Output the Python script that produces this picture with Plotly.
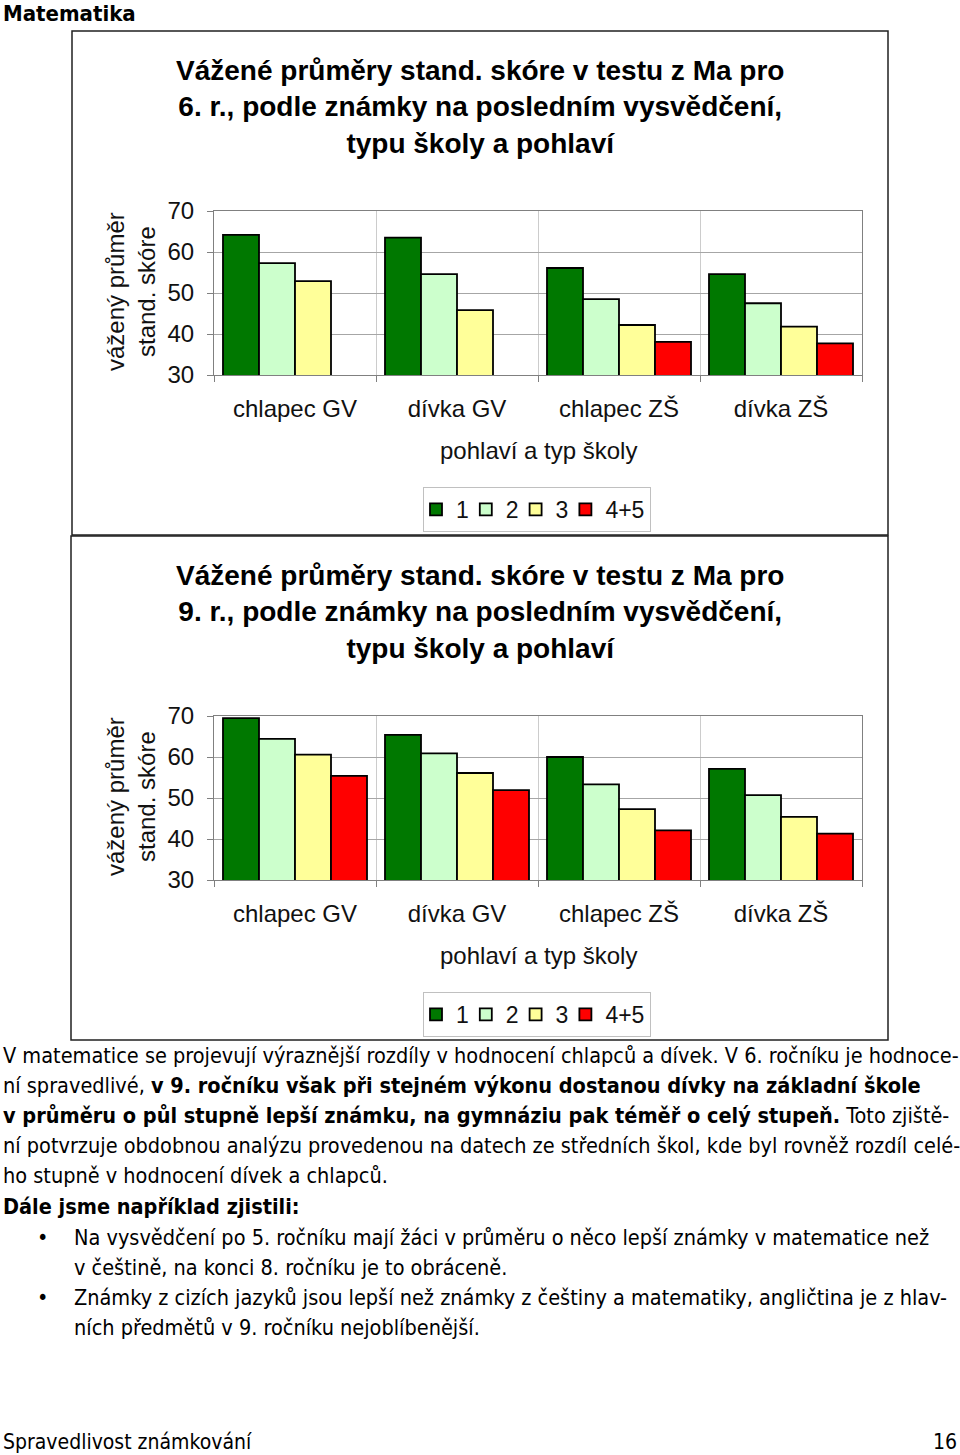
import plotly.graph_objects as go

categories = ["chlapec GV", "dívka GV", "chlapec ZŠ", "dívka ZŠ"]
grades = ["1", "2", "3", "4+5"]
grade_colors = ["#007800", "#CCFFCC", "#FFFF99", "#FF0000"]

# 6th grade
ma6_g1 = [64.2, 63.5, 56.1, 54.6]
ma6_g2 = [57.3, 54.6, 48.5, 47.5]
ma6_g3 = [52.9, 45.8, 42.2, 41.8]
ma6_g45 = [None, None, 38.1, 37.7]

# 9th grade
ma9_g1 = [69.5, 65.4, 60.0, 57.1]
ma9_g2 = [64.4, 60.9, 53.3, 50.7]
ma9_g3 = [60.6, 56.1, 47.3, 45.4]
ma9_g45 = [55.4, 51.9, 42.1, 41.3]

title6 = "Vážené průměry stand. skóre v testu z Ma pro<br>6. r., podle známky na posledním vysvědčení,<br>typu školy a pohlaví"
title9 = "Vážené průměry stand. skóre v testu z Ma pro<br>9. r., podle známky na posledním vysvědčení,<br>typu školy a pohlaví"
ytitle = "vážený průměr<br>stand. skóre"
xtitle = "pohlaví a typ školy"

body_lines = [
    "V matematice se projevují výraznější rozdíly v hodnocení chlapců a dívek. V 6. ročníku je hodnoce-",
    "ní spravedlivé, <b>v 9. ročníku však při stejném výkonu dostanou dívky na základní škole</b>",
    "<b>v průměru o půl stupně lepší známku, na gymnáziu pak téměř o celý stupeň.</b> Toto zjiště-",
    "ní potvrzuje obdobnou analýzu provedenou na datech ze středních škol, kde byl rovněž rozdíl celé-",
    "ho stupně v hodnocení dívek a chlapců.",
    "<b>Dále jsme například zjistili:</b>",
]
bullet_lines = [
    ("•", "Na vysvědčení po 5. ročníku mají žáci v průměru o něco lepší známky v matematice než"),
    ("", "v češtině, na konci 8. ročníku je to obráceně."),
    ("•", "Známky z cizích jazyků jsou lepší než známky z češtiny a matematiky, angličtina je z hlav-"),
    ("", "ních předmětů v 9. ročníku nejoblíbenější."),
]

W, H = 960, 1455
def px(x):
    return x / W
def py(y):
    return 1 - y / H

ARIAL = "Liberation Sans, Arial, sans-serif"
TAHOMA = "DejaVu Sans Condensed, DejaVu Sans, sans-serif"
TXT = 21.5

fig = go.Figure()
ma6 = [ma6_g1, ma6_g2, ma6_g3, ma6_g45]
ma9 = [ma9_g1, ma9_g2, ma9_g3, ma9_g45]
for g, c, v6, v9 in zip(grades, grade_colors, ma6, ma9):
    fig.add_trace(go.Bar(x=categories, y=v6, name=g, marker=dict(color=c, line=dict(color="black", width=1.8)),
                         xaxis="x", yaxis="y", legend="legend"))
    fig.add_trace(go.Bar(x=categories, y=v9, name=g, marker=dict(color=c, line=dict(color="black", width=1.8)),
                         xaxis="x2", yaxis="y2", legend="legend2"))

xdom = [px(214), px(862)]
axis_common_y = dict(range=[30, 70], dtick=10, showgrid=True, gridcolor="#A6A6A6", gridwidth=1,
                     showline=True, linecolor="#808080", linewidth=1, mirror=True,
                     ticks="outside", ticklen=6, tickcolor="#808080", automargin=False,
                     tickfont=dict(family=ARIAL, size=24, color="#111"), ticklabelstandoff=8, zeroline=False)
axis_common_x = dict(type="category", tickson="boundaries", showgrid=True, gridcolor="#CCCCCC", gridwidth=1,
                     showline=True, linecolor="#808080", linewidth=1, mirror=True,
                     ticks="outside", ticklen=6, tickcolor="#808080", automargin=False,
                     tickfont=dict(family=ARIAL, size=24, color="#111"), ticklabelstandoff=12)

legend_common = dict(xanchor="center", yanchor="top", orientation="h",
                     bordercolor="#C0C0C0", borderwidth=1, font=dict(family=ARIAL, size=23, color="#111"),
                     itemwidth=30, indentation=-8, tracegroupgap=0, bgcolor="white")

fig.update_layout(
    template="none",
    width=W, height=H, margin=dict(l=0, r=0, t=0, b=0, pad=0, autoexpand=False),
    paper_bgcolor="white", plot_bgcolor="white",
    barmode="group", bargap=0.111, bargroupgap=0,
    xaxis=dict(domain=xdom, anchor="y", **axis_common_x),
    yaxis=dict(domain=[py(375), py(211)], anchor="x", **axis_common_y),
    xaxis2=dict(domain=xdom, anchor="y2", **axis_common_x),
    yaxis2=dict(domain=[py(880), py(716)], anchor="x2", **axis_common_y),
    legend=dict(x=px(537), y=py(487), **legend_common),
    legend2=dict(x=px(537), y=py(992), **legend_common),
)

shapes = [
    dict(type="rect", xref="paper", yref="paper", x0=px(72), x1=px(888), y0=py(535), y1=py(31),
         line=dict(color="#202020", width=1.5)),
    dict(type="rect", xref="paper", yref="paper", x0=px(71), x1=px(888), y0=py(1040), y1=py(536),
         line=dict(color="#202020", width=1.5)),
]
fig.update_layout(shapes=shapes)

ann = []
ann.append(dict(text="<b>Matematika</b>", x=px(2), y=1, xanchor="left", yanchor="top",
                font=dict(family=TAHOMA, size=22, color="black")))
for t, yc in [(title6, 107), (title9, 612)]:
    ann.append(dict(text="<b>" + t + "</b>", x=px(480), y=py(yc), xanchor="center", yanchor="middle",
                    font=dict(family=ARIAL, size=28, color="black")))
for yc in [292, 797]:
    ann.append(dict(text=ytitle, x=px(131), y=py(yc), xanchor="center", yanchor="middle", textangle=-90,
                    font=dict(family=ARIAL, size=24, color="#111")))
for yc in [450, 955]:
    ann.append(dict(text=xtitle, x=px(538), y=py(yc), xanchor="center", yanchor="middle",
                    font=dict(family=ARIAL, size=24, color="#111")))

ys = [1055, 1085, 1115, 1145, 1175, 1206]
for t, yc in zip(body_lines, ys):
    ann.append(dict(text=t, x=px(2), y=py(yc), xanchor="left", yanchor="middle",
                    font=dict(family=TAHOMA, size=TXT, color="black")))
for (b, t), yc in zip(bullet_lines, [1237, 1267, 1297, 1327]):
    if b:
        ann.append(dict(text=b, x=px(42), y=py(yc), xanchor="center", yanchor="middle",
                        font=dict(family=TAHOMA, size=TXT, color="black")))
    ann.append(dict(text=t, x=px(73), y=py(yc), xanchor="left", yanchor="middle",
                    font=dict(family=TAHOMA, size=TXT, color="black")))
ann.append(dict(text="Spravedlivost známkování", x=px(2), y=py(1442), xanchor="left", yanchor="middle",
                font=dict(family=TAHOMA, size=21, color="black")))
ann.append(dict(text="16", x=px(958), y=py(1442), xanchor="right", yanchor="middle",
                font=dict(family=TAHOMA, size=21, color="black")))
for a in ann:
    a.update(xref="paper", yref="paper", showarrow=False, borderpad=0)
fig.update_layout(annotations=ann)

fig.write_html("out.html", config={"displayModeBar": False},
               post_script="document.body.style.margin='0';document.body.style.overflow='hidden';")
